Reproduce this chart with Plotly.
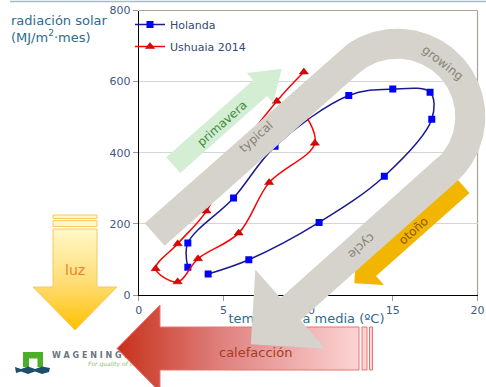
import numpy as np
import plotly.graph_objects as go

W, H = 486, 387

# ---------------- data ----------------
months = ["ene", "feb", "mar", "abr", "may", "jun", "jul", "ago", "sep", "oct", "nov", "dic"]
holanda_temp = [2.9, 2.9, 5.6, 8.05, 12.4, 15.0, 17.2, 17.3, 14.5, 10.65, 6.5, 4.1]
holanda_rad = [78, 146, 273, 418, 561, 579, 570, 494, 334, 204, 99, 59]
ushuaia_temp = [9.5, 10.4, 7.7, 5.9, 3.5, 2.3, 1.0, 2.3, 4.0, 5.4, 8.15, 9.75]
ushuaia_rad = [530, 427, 316, 174, 102, 37, 74, 144, 236, 370, 545, 627]

x_ticks = [0, 5, 10, 15, 20]
y_ticks = [0, 200, 400, 600, 800]

# ---------------- geometry of the plot box (pixels) ----------------
PX0, PX1 = 138.7, 477.5
PY0, PY1 = 295.0, 10.5

FONT = "DejaVu Sans"
TXT = "#2e6b8e"

fig = go.Figure()

# data series
fig.add_trace(go.Scatter(
    x=holanda_temp, y=holanda_rad, name="Holanda", text=months,
    mode="lines+markers", line=dict(color="#1b1b8f", width=1.5, shape="spline"),
    marker=dict(symbol="square", size=7, color="#0000ff"),
    legendgroup="a", xaxis="x", yaxis="y"))
fig.add_trace(go.Scatter(
    x=ushuaia_temp, y=ushuaia_rad, name="Ushuaia 2014", text=months,
    mode="lines+markers", line=dict(color="#ff0000", width=1.5, shape="spline"),
    marker=dict(symbol="triangle-up", size=8, color="#e00000",
                line=dict(color="#a00000", width=0.5)),
    legendgroup="b", xaxis="x", yaxis="y"))

# ---------------- decorations (overlay axes in pixel units) ----------------
TH = np.deg2rad(41.6)
C, S = np.cos(TH), np.sin(TH)


def rot(u, v):
    u = np.asarray(u, float)
    v = np.asarray(v, float)
    return u * C + v * S, -u * S + v * C


def poly(x, y, color, line_color=None, line_width=0, grad=None):
    kw = {}
    if grad is not None:
        kw["fillgradient"] = grad
    else:
        kw["fillcolor"] = color
    fig.add_trace(go.Scatter(
        x=list(x), y=list(y), mode="lines", fill="toself",
        line=dict(color=line_color or color, width=line_width),
        hoverinfo="skip", showlegend=False, xaxis="x2", yaxis="y2", **kw))


# top rule of the slide
fig.add_trace(go.Scatter(x=[10, 486], y=[1.5, 1.5], mode="lines",
                         line=dict(color="#a7bccb", width=1.5), hoverinfo="skip",
                         showlegend=False, xaxis="x2", yaxis="y2"))

# x axis title (drawn under the big grey arrow)
fig.add_trace(go.Scatter(x=[306.5], y=[320], mode="text", text=["temperatura media (ºC)"],
                         textfont=dict(family=FONT, size=13, color=TXT),
                         hoverinfo="skip", showlegend=False, xaxis="x2", yaxis="y2"))

# logo
poly([23, 43, 43, 37.5, 37.5, 29, 29, 23], [352, 352, 367, 367, 358.5, 358.5, 367, 367], "#4caf2a")
poly([15, 21, 28, 35, 42, 50, 49, 42, 35, 28, 21, 16],
     [367, 369, 366.5, 369, 366.5, 368, 372, 374, 371.5, 374, 371.5, 373], "#1d4e6e")
fig.add_trace(go.Scatter(x=[52], y=[355.5], mode="text", text=["W A G E N I N G E N"],
                         textposition="middle right",
                         textfont=dict(family=FONT, size=8, color="#6b7680", weight="bold"),
                         hoverinfo="skip", showlegend=False, xaxis="x2", yaxis="y2"))
fig.add_trace(go.Scatter(x=[88], y=[364], mode="text", text=["For quality of life"],
                         textposition="middle right",
                         textfont=dict(family=FONT, size=6, color="#8cbf70", style="italic"),
                         hoverinfo="skip", showlegend=False, xaxis="x2", yaxis="y2"))

# green "primavera" arrow
gx, gy = rot([20, 136, 136, 165, 136, 136, 20], [228, 228, 218.5, 238.5, 258.5, 249, 249])
poly(gx, gy, "#d3eed3")

# yellow "luz" arrow
ygrad = dict(type="vertical", start=229, stop=330,
             colorscale=[[0, "#fff8c8"], [0.55, "#ffdc70"], [1, "#ffc000"]])
poly([53, 97, 97, 117, 75, 33, 53, 53], [229, 229, 287, 287, 330, 287, 287, 229],
     None, line_color="#f8c860", line_width=1, grad=ygrad)
poly([53, 97, 97, 53, 53], [215, 215, 218.5, 218.5, 215], "#fff6cc", line_color="#f8c860", line_width=1)
poly([53, 97, 97, 53, 53], [220.5, 220.5, 226.5, 226.5, 220.5], "#fff6cc", line_color="#f8c860", line_width=1)

# orange "otoño" arrow (below the grey band)
ox, oy = rot([223, 98, 98, 77, 98, 98, 223], [438, 438, 426, 447, 468, 456, 456])
poly(ox, oy, "#f2b500")

# red "calefacción" arrow
rgrad = dict(type="horizontal", start=117, stop=359,
             colorscale=[[0, "#c8301a"], [0.45, "#e08482"], [1, "#fcd4d4"]])
poly([359, 160, 160, 117, 160, 160, 359, 359], [327, 327, 305, 348.5, 392, 370, 370, 327],
     None, line_color="#f07070", line_width=1, grad=rgrad)
poly([362, 367, 367, 362, 362], [327, 327, 370, 370, 327], "#fcd4d4", line_color="#f07070", line_width=1)
poly([369.5, 372.5, 372.5, 369.5, 369.5], [327, 327, 370, 370, 327], "#fcd4d4", line_color="#f07070", line_width=1)

# big grey U-shaped "typical growing cycle" arrow
uc, vc, Ro, Ri = 219.6, 351.0, 88.0, 58.0
a = np.linspace(0, np.pi, 80)
outer_u = uc + Ro * np.sin(a)
outer_v = vc - Ro * np.cos(a)
inner_u = uc + Ri * np.sin(a[::-1])
inner_v = vc - Ri * np.cos(a[::-1])
hv = vc + (Ro + Ri) / 2
U = np.concatenate([[-40], outer_u, [12, 12, -41, 12, 12], inner_u, [-40]])
V = np.concatenate([[vc - Ro], outer_v, [vc + Ro, hv + 53, hv, hv - 53, vc + Ri], inner_v, [vc - Ri]])
bx, by = rot(U, V)
poly(bx, by, "#d5d3cb")

# ---------------- annotations ----------------
ann = [
    dict(x=9, y=11, xanchor="left", yanchor="top", align="left",
         text="radiación solar<br>(MJ/m<sup>2</sup>·mes)", font=dict(size=13, color=TXT)),
    dict(x=255.8, y=136.7, text="typical", textangle=-41.6, font=dict(size=12, color="#858279")),
    dict(x=443, y=62.5, text="growing", textangle=38, font=dict(size=12, color="#858279")),
    dict(x=361.7, y=246.5, text="cycle", textangle=138.4, font=dict(size=12, color="#858279")),
    dict(x=221.5, y=123.5, text="primavera", textangle=-41.6, font=dict(size=12, color="#3d8b3d")),
    dict(x=413, y=230.5, text="otoño", textangle=-41.6, font=dict(size=12, color="#8c5a00")),
    dict(x=75, y=270, text="luz", font=dict(size=14, color="#f08030")),
    dict(x=255, y=352, text="calefacción", font=dict(size=13, color="#a83c1e")),
]
for d in ann:
    d.update(xref="x2", yref="y2", showarrow=False)
    d["font"]["family"] = FONT

fig.update_layout(
    width=W, height=H, margin=dict(l=0, r=0, t=0, b=0, autoexpand=False),
    paper_bgcolor="white", plot_bgcolor="rgba(0,0,0,0)",
    font=dict(family=FONT, size=11, color="#3c5a82"),
    xaxis=dict(domain=[PX0 / W, PX1 / W], range=[0, 20], tickvals=x_ticks, automargin=False,
               showgrid=False, zeroline=False, showline=True, linecolor="black", linewidth=1,
               ticks="outside", ticklen=5, tickcolor="#999999",
               tickfont=dict(size=11, color="#3c5a82")),
    yaxis=dict(domain=[(H - PY0) / H, (H - PY1) / H], range=[0, 800], tickvals=y_ticks,
               automargin=False,
               showgrid=True, gridcolor="#d4d4d4", zeroline=False, showline=True,
               linecolor="black", linewidth=1, ticks="outside", ticklen=5, tickcolor="#999999",
               tickfont=dict(size=11, color="#3c5a82")),
    xaxis2=dict(domain=[0, 1], range=[0, W], visible=False, anchor="y2", fixedrange=True,
                automargin=False),
    yaxis2=dict(domain=[0, 1], range=[H, 0], visible=False, anchor="x2", fixedrange=True,
                automargin=False),
    showlegend=True,
    legend=dict(x=130 / W, y=1 - 10 / H, xanchor="left", yanchor="top",
                bgcolor="rgba(0,0,0,0)", font=dict(size=11, color="#34496e"),
                tracegroupgap=3),
    annotations=ann,
    shapes=[
        dict(type="line", xref="x domain", yref="y domain", x0=0, x1=1, y0=1, y1=1,
             line=dict(color="#a8a49a", width=1.2), layer="below"),
        dict(type="line", xref="x domain", yref="y domain", x0=1, x1=1, y0=0, y1=1,
             line=dict(color="#a8a49a", width=1.2), layer="below"),
    ],
)

fig.write_html("out.html")
